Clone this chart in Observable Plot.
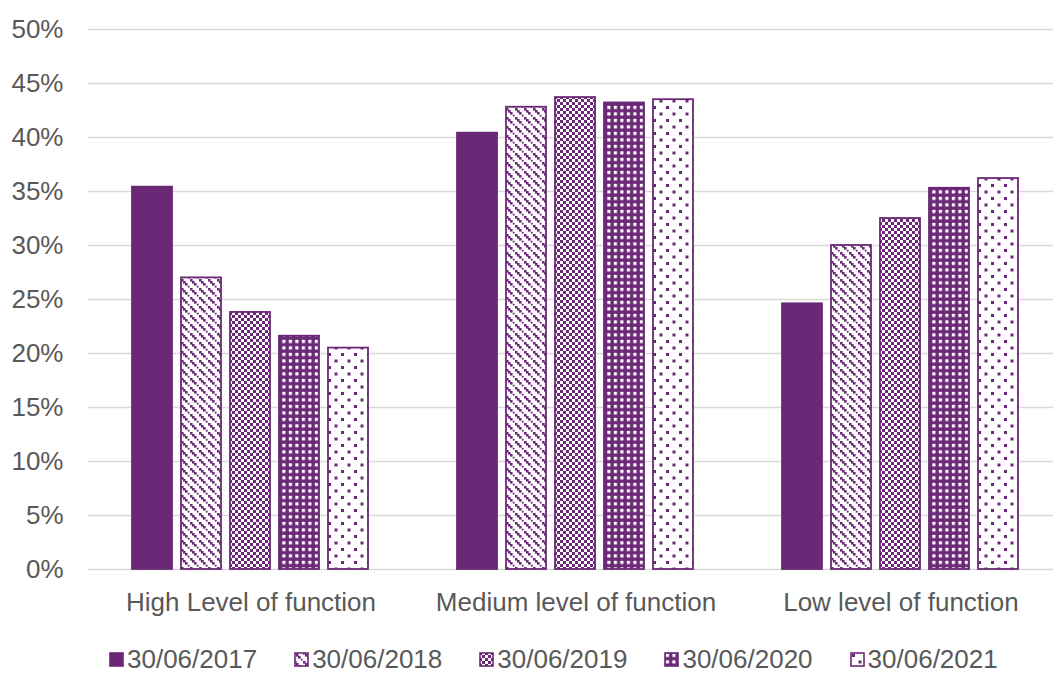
<!DOCTYPE html>
<html>
<head>
<meta charset="utf-8">
<script src="https://cdn.jsdelivr.net/npm/d3@7"></script>
<script src="https://cdn.jsdelivr.net/npm/@observablehq/plot@0.6"></script>
<style>
  html, body { margin: 0; padding: 0; background: #fff; }
  #chart { width: 1053px; height: 673px; position: relative; }
  #legend { position: absolute; left: 109px; top: 646px; display: flex; align-items: center; gap: 37px;
            font-family: "Liberation Sans", Arial, sans-serif; font-size: 26px; color: #595959; line-height: 27px; }
  .item { display: flex; align-items: center; gap: 3px; white-space: nowrap; }
  .item svg { display: block; }
</style>
</head>
<body>
<svg width="0" height="0" style="position:absolute">
  <defs>
    <pattern id="p2017" patternUnits="userSpaceOnUse" width="6" height="6">
      <rect width="6" height="6" fill="#6B2876"/>
    </pattern>
    <pattern id="p2018" patternUnits="userSpaceOnUse" width="9" height="9">
      <rect width="9" height="9" fill="#fff"/>
      <rect x="0" y="0" width="2.6" height="2.6" fill="#6B2876"/>
      <rect x="2" y="2" width="2.6" height="2.6" fill="#6B2876"/>
      <rect x="4" y="4" width="2.6" height="2.6" fill="#6B2876"/>
      <rect x="6.8" y="6.8" width="1.8" height="1.8" fill="#6B2876"/>
    </pattern>
    <pattern id="p2019" patternUnits="userSpaceOnUse" width="6" height="6">
      <rect width="6" height="6" fill="#fff"/>
      <rect x="0" y="0" width="3" height="3" fill="#6B2876"/>
      <rect x="3" y="3" width="3" height="3" fill="#6B2876"/>
    </pattern>
    <pattern id="p2020" patternUnits="userSpaceOnUse" width="6.5" height="6.5">
      <rect width="6.5" height="6.5" fill="#6B2876"/>
      <rect x="1.8" y="1.8" width="3.2" height="3.2" fill="#fff"/>
    </pattern>
    <pattern id="p2021" patternUnits="userSpaceOnUse" width="13" height="13">
      <rect width="13" height="13" fill="#fff"/>
      <rect x="2" y="2" width="3" height="3" fill="#6B2876"/>
      <rect x="8.5" y="8.5" width="3" height="3" fill="#6B2876"/>
    </pattern>
  </defs>
</svg>
<div id="chart"><div id="legend"></div></div>
<script>
// ---- data ----
const groups = ["High Level of function", "Medium level of function", "Low level of function"];
const seriesNames = ["30/06/2017", "30/06/2018", "30/06/2019", "30/06/2020", "30/06/2021"];
const highValues = [35.4, 27.0, 23.8, 21.6, 20.5];
const mediumValues = [40.4, 42.8, 43.7, 43.2, 43.5];
const lowValues = [24.6, 30.0, 32.5, 35.3, 36.2];
const yTicks = [0, 5, 10, 15, 20, 25, 30, 35, 40, 45, 50];

const purple = "#6B2876";
const patternIds = ["p2017", "p2018", "p2019", "p2020", "p2021"];

const valuesByGroup = [highValues, mediumValues, lowValues];
const rows = [];
groups.forEach((g, gi) => {
  seriesNames.forEach((s, si) => {
    rows.push({group: g, series: s, value: valuesByGroup[gi][si]});
  });
});

const fillScale = new Map(seriesNames.map((s, i) => [s, `url(#${patternIds[i]})`]));

const plot = Plot.plot({
  width: 1053,
  height: 640,
  marginLeft: 87,
  marginRight: 0,
  marginTop: 29,
  marginBottom: 71,
  style: {fontFamily: "'Liberation Sans', Arial, sans-serif", fontSize: "26px", color: "#595959", background: "transparent"},
  fx: {domain: groups, range: [87, 1064], padding: 0, label: null, axis: "bottom", tickSize: 0, tickPadding: 23},
  x: {domain: seriesNames, paddingInner: 0.18, paddingOuter: 0.875, axis: null},
  y: {domain: [0, 50], ticks: yTicks, tickFormat: d => d + "%", tickSize: 0, tickPadding: 25, label: null},
  marks: [
    Plot.ruleY(yTicks, {stroke: "#d9d9d9", strokeWidth: 1.4}),
    Plot.barY(rows, {
      fx: "group",
      x: "series",
      y: "value",
      fill: d => fillScale.get(d.series),
      stroke: purple,
      strokeWidth: 1.8
    })
  ]
});
const chart = document.getElementById("chart");
chart.insertBefore(plot, chart.firstChild);

// legend
const legend = document.getElementById("legend");
seriesNames.forEach((s, i) => {
  const item = document.createElement("div");
  item.className = "item";
  item.innerHTML = `<svg width="15" height="15"><rect x="1" y="1" width="13" height="13" fill="url(#${patternIds[i]})" stroke="${purple}" stroke-width="1.6"/></svg><span>${s}</span>`;
  legend.appendChild(item);
});
</script>
</body>
</html>
